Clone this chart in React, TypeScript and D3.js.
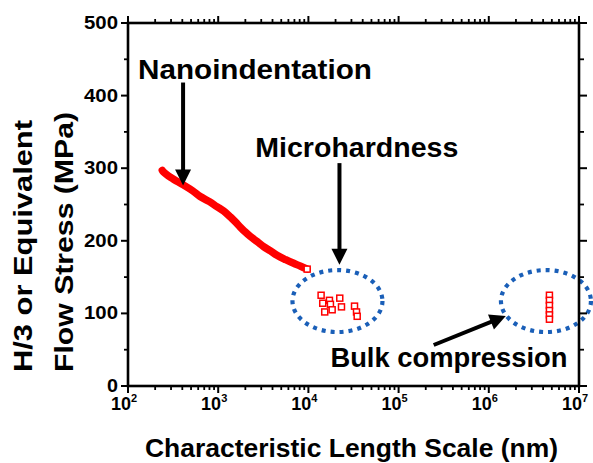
import React from "react";
import * as d3 from "d3";

const W = 593;
const H = 463;

// Nanoindentation curve (length nm, stress MPa)
const nanoX = [240, 247, 300, 411, 520, 631, 800, 968, 1150, 1360, 1550, 1755, 2000, 2268, 2700, 3187, 3800, 4487, 5600, 6870, 8200, 9690];
const nanoY = [297, 295, 287, 277, 269, 261, 254, 247, 241, 233, 226, 219, 212, 206, 199, 192, 186, 180, 174, 169, 165, 161];

// Microhardness points
const microX = [13830, 14420, 15170, 17110, 17550, 18340, 22270, 23270, 32460, 34150, 34750];
const microY = [125, 114, 102, 118, 112.5, 105, 121, 109, 110, 102, 96];

// Bulk compression points
const bulkX = [4.7e6, 4.7e6, 4.7e6, 4.7e6, 4.7e6, 4.7e6];
const bulkY = [125, 118, 111, 104, 98, 92];

const xMajor = [1e2, 1e3, 1e4, 1e5, 1e6, 1e7];
const xExp = ["2", "3", "4", "5", "6", "7"];
const yMajor = [0, 100, 200, 300, 400, 500];

// annotations (data coordinates, text start)
const labels = [
  { text: "Nanoindentation", x: 129, y: 423, len: 234 },
  { text: "Microhardness", x: 2578, y: 315.4, len: 203 },
  { text: "Bulk compression", x: 17550, y: 26.2, len: 237 },
];
const arrows = [
  { x1: 408, y1: 418, x2: 408, y2: 276 },
  { x1: 2.21e4, y1: 307, x2: 2.21e4, y2: 167 },
  { x1: 2.45e5, y1: 56.5, x2: 1.545e6, y2: 96.4 },
];
const circles = [
  { cx: 2.1e4, cy: 117 },
  { cx: 4.3e6, cy: 117 },
];

export default function App() {
  const x = d3.scaleLog().domain([1e2, 1e7]).range([128, 579]);
  const y = d3.scaleLinear().domain([0, 500]).range([386, 23]);
  const [x0, x1] = x.range();
  const [y0, y1] = y.range();

  const xMinor: number[] = [];
  for (let e = 2; e < 7; e++) for (let m = 2; m <= 9; m++) xMinor.push(m * Math.pow(10, e));
  const yMinor = d3.range(50, 500, 100);

  const line = d3
    .line<number>()
    .x((_, i) => x(nanoX[i]))
    .y((d) => y(d))
    .curve(d3.curveCatmullRom);

  const font = "'Liberation Sans', Arial, sans-serif";
  const axisW = 2.6;

  const arrowHead = (a: typeof arrows[0]) => {
    const px1 = x(a.x1), py1 = y(a.y1), px2 = x(a.x2), py2 = y(a.y2);
    const ang = Math.atan2(py2 - py1, px2 - px1);
    const L = 16, Wd = 8;
    const bx = px2 - L * Math.cos(ang), by = py2 - L * Math.sin(ang);
    const nx = -Math.sin(ang), ny = Math.cos(ang);
    return {
      shaft: [px1, py1, bx + 2 * Math.cos(ang), by + 2 * Math.sin(ang)],
      head: `M${px2},${py2}L${bx + nx * Wd},${by + ny * Wd}L${bx - nx * Wd},${by - ny * Wd}Z`,
    };
  };

  return (
    <svg width={W} height={H} style={{ position: "absolute", left: 0, top: 0, background: "#fff" }} fontFamily={font}>
      <rect width={W} height={H} fill="#fff" />
      {/* ellipses */}
      {circles.map((c, i) => (
        <ellipse key={i} cx={x(c.cx)} cy={y(c.cy)} rx={45} ry={31} fill="none" stroke="#1a5fb8" strokeWidth={4.2} strokeDasharray="4 5" />
      ))}
      {/* nano curve */}
      <path d={line(nanoY) || ""} fill="none" stroke="#ff0000" strokeWidth={7.5} strokeLinecap="round" />
      <rect x={x(nanoX[nanoX.length - 1]) - 3} y={y(nanoY[nanoY.length - 1]) - 3} width={6} height={6} fill="#fff" stroke="#ff0000" strokeWidth={1.5} />
      {/* squares */}
      {microX.map((v, i) => (
        <rect key={"m" + i} x={x(v) - 3} y={y(microY[i]) - 3} width={6} height={6} fill="#fff" stroke="#ff0000" strokeWidth={1.5} />
      ))}
      {bulkX.map((v, i) => (
        <rect key={"b" + i} x={x(v) - 3} y={y(bulkY[i]) - 3} width={6} height={6} fill="#fff" stroke="#ff0000" strokeWidth={1.5} />
      ))}
      {/* arrows */}
      {arrows.map((a, i) => {
        const h = arrowHead(a);
        return (
          <g key={i}>
            <line x1={h.shaft[0]} y1={h.shaft[1]} x2={h.shaft[2]} y2={h.shaft[3]} stroke="#000" strokeWidth={4} />
            <path d={h.head} fill="#000" />
          </g>
        );
      })}
      {labels.map((l, i) => (
        <text key={i} x={x(l.x)} y={y(l.y)} textAnchor="start" fontSize={27} fontWeight="bold" fill="#000"
          textLength={l.len} lengthAdjust="spacingAndGlyphs">
          {l.text}
        </text>
      ))}
      {/* frame */}
      <rect x={x0} y={y1} width={x1 - x0} height={y0 - y1} fill="none" stroke="#000" strokeWidth={axisW} />
      {/* x ticks */}
      {xMajor.map((v) => (
        <g key={"xm" + v}>
          <line x1={x(v)} x2={x(v)} y1={y0} y2={y0 + 7} stroke="#000" strokeWidth={2} />
          <line x1={x(v)} x2={x(v)} y1={y1} y2={y1 - 7} stroke="#000" strokeWidth={2} />
        </g>
      ))}
      {xMinor.map((v) => (
        <g key={"xn" + v}>
          <line x1={x(v)} x2={x(v)} y1={y0} y2={y0 + 4} stroke="#000" strokeWidth={1.8} />
          <line x1={x(v)} x2={x(v)} y1={y1} y2={y1 - 4} stroke="#000" strokeWidth={1.8} />
        </g>
      ))}
      {/* y ticks */}
      {yMajor.map((v) => (
        <g key={"ym" + v}>
          <line x1={x0 - 7} x2={x0} y1={y(v)} y2={y(v)} stroke="#000" strokeWidth={2} />
          <line x1={x1} x2={x1 + 8} y1={y(v)} y2={y(v)} stroke="#000" strokeWidth={2} />
        </g>
      ))}
      {yMinor.map((v) => (
        <g key={"yn" + v}>
          <line x1={x0 - 4} x2={x0} y1={y(v)} y2={y(v)} stroke="#000" strokeWidth={1.8} />
          <line x1={x1} x2={x1 + 5} y1={y(v)} y2={y(v)} stroke="#000" strokeWidth={1.8} />
        </g>
      ))}
      {/* tick labels */}
      {yMajor.map((v) => (
        <text key={"yl" + v} x={x0 - 10} y={y(v) + 6} textAnchor="end" fontSize={19} fontWeight="bold"
          textLength={String(v).length === 1 ? 11 : 34} lengthAdjust="spacingAndGlyphs">
          {v}
        </text>
      ))}
      {xMajor.map((v, i) => (
        <text key={"xl" + v} x={x(v) - 4} y={410} textAnchor="middle" fontSize={18} fontWeight="bold">
          10
          <tspan dy={-8} fontSize={11}>{xExp[i]}</tspan>
        </text>
      ))}
      {/* axis titles */}
      <text x={145} y={457} textAnchor="start" fontSize={25} fontWeight="bold" textLength={413} lengthAdjust="spacingAndGlyphs">
        Characteristic Length Scale (nm)
      </text>
      <g transform={`translate(32, 372) rotate(-90)`}>
        <text x={0} y={0} textAnchor="start" fontSize={26} fontWeight="bold" textLength={252} lengthAdjust="spacingAndGlyphs">H/3 or Equivalent</text>
        <text x={0} y={41} textAnchor="start" fontSize={26} fontWeight="bold" textLength={260} lengthAdjust="spacingAndGlyphs">Flow Stress (MPa)</text>
      </g>
    </svg>
  );
}
